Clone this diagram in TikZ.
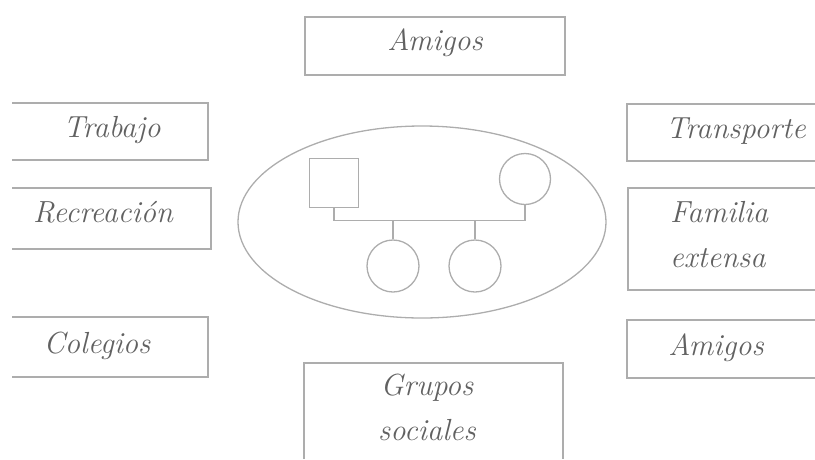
\documentclass[tikz,border=0pt]{standalone}
\usepackage{fontspec}
\usepackage{tikz}

\tikzset{
  linea/.style={draw=black!32, line width=1.3pt},
  rotulo/.style={font=\fontsize{30.5}{45}\selectfont\itshape, text=black!62, inner sep=0pt, anchor=base}
}

\begin{document}
\begin{tikzpicture}[x=1pt,y=-1pt]
    \useasboundingbox (0,0) rectangle (815,459);
    \begin{scope}[linea]
      \draw (305,17) rectangle (565,75);
      \draw (12,103) -- (208,103) -- (208,160) -- (12,160);
      \draw (12,188) -- (211,188) -- (211,249) -- (12,249);
      \draw (12,317) -- (208,317) -- (208,377) -- (12,377);
      \draw (815,104) -- (627,104) -- (627,161) -- (815,161);
      \draw (815,188) -- (628,188) -- (628,290) -- (815,290);
      \draw (815,320) -- (627,320) -- (627,378) -- (815,378);
      \draw (304,459) -- (304,363) -- (563,363) -- (563,459);
      \draw (422,222) ellipse [x radius=184, y radius=96];
    \end{scope}

    \node[rotulo] (amigosA) at (435,50) {Amigos};
    \node[rotulo] (trabajo) at (112,137) {Trabajo};
    \node[rotulo] (recreacion) at (103,222) {Recreación};
    \node[rotulo] (colegios) at (97,353) {Colegios};
    \node[rotulo] (transporte) at (736,138) {Transporte};
    \node[rotulo, anchor=base west, align=left] (extensa) at (670,267) {Familia\\extensa};
    \node[rotulo] (amigosB) at (716,355) {Amigos};
    \node[rotulo, align=center] (grupos) at (427,440) {Grupos\\sociales};

    \node[linea, minimum size=49pt, inner sep=0pt] (padre) at (334,183) {};
    \node[linea, circle, minimum size=51pt, inner sep=0pt] (madre) at (525,179) {};
    \draw[linea] (padre.south) -- ++(0,12) coordinate (lazo) -| (madre.south);
    \foreach \n/\x in {1/393,2/475}{
      \node[linea, circle, minimum size=52pt, inner sep=0pt] (hija\n) at (\x,266) {};
      \draw[linea] (hija\n.north) -- (hija\n.north |- lazo);
    }
\end{tikzpicture}
\end{document}
